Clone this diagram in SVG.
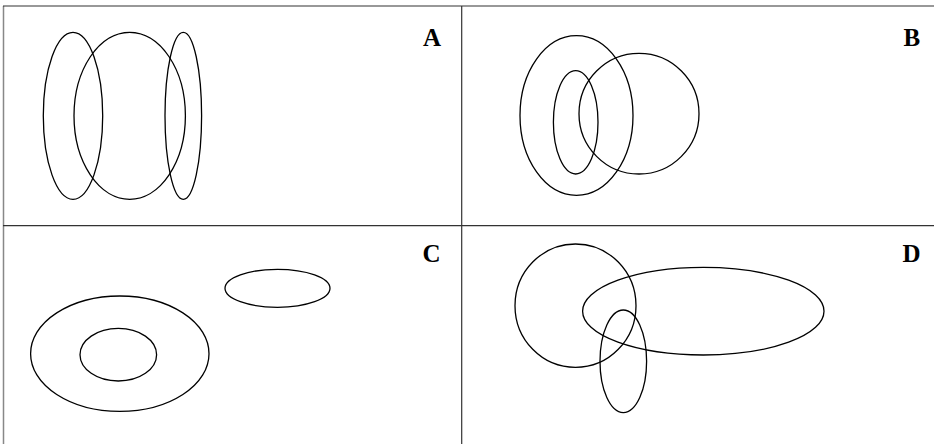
<svg xmlns="http://www.w3.org/2000/svg" width="934" height="444" viewBox="0 0 934 444">
<style>
.frame{stroke:#333;stroke-width:1.2;fill:none}
.edge{stroke:#888;stroke-width:1.5;fill:none}
.set{stroke:#000;stroke-width:1.3;fill:none}
.lbl{font-family:"Liberation Serif","Times New Roman",serif;font-weight:bold;font-size:25px;fill:#000}
</style>
<rect width="934" height="444" fill="#fff"/>
<g id="grid">
<line class="edge" x1="3.5" y1="6" x2="3.5" y2="444"/>
<line class="frame" x1="3" y1="6" x2="934" y2="6"/>
<line class="frame" x1="3" y1="225.7" x2="934" y2="225.7"/>
<line class="frame" x1="461.7" y1="6" x2="461.7" y2="444"/>
</g>
<g id="panelA">
<ellipse class="set" cx="73" cy="115.8" rx="29.7" ry="83.5"/>
<ellipse class="set" cx="129.7" cy="115.8" rx="55.7" ry="83.5"/>
<ellipse class="set" cx="183.3" cy="115.8" rx="18.3" ry="83.5"/>
<text class="lbl" x="423" y="46">A</text>
</g>
<g id="panelB">
<ellipse class="set" cx="576.5" cy="115.5" rx="56.5" ry="79.8"/>
<ellipse class="set" cx="575.7" cy="122.3" rx="22.3" ry="51.7"/>
<ellipse class="set" cx="639" cy="113.7" rx="60" ry="60.3"/>
<text class="lbl" x="903.5" y="46">B</text>
</g>
<g id="panelC">
<ellipse class="set" cx="119.8" cy="353.7" rx="89.2" ry="57.7"/>
<ellipse class="set" cx="118.3" cy="354.7" rx="38.3" ry="26.3"/>
<ellipse class="set" cx="277.5" cy="288.3" rx="52.5" ry="19"/>
<text class="lbl" x="422.5" y="262">C</text>
</g>
<g id="panelD">
<ellipse class="set" cx="575.5" cy="305.7" rx="60.5" ry="61.7"/>
<ellipse class="set" cx="703.3" cy="311.2" rx="120.7" ry="43.8"/>
<ellipse class="set" cx="623.3" cy="361.3" rx="23.3" ry="51.3"/>
<text class="lbl" x="902.5" y="262">D</text>
</g>
</svg>
